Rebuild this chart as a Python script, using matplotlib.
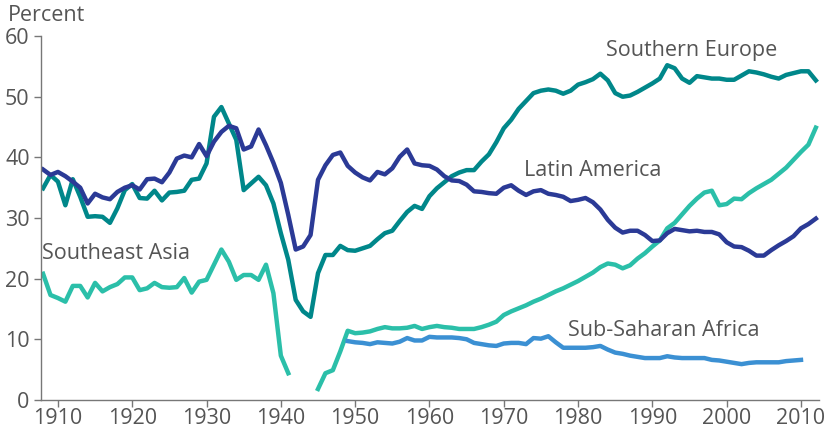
import numpy as np
import matplotlib.pyplot as plt

plt.rcParams['font.family'] = ['Open Sans', 'DejaVu Sans']

# Southern Europe, 1908-2012
years_se = list(range(1908, 2013))
southern_europe = [
    34.9, 37.1, 36.0, 32.1, 36.4, 33.5, 30.2, 30.3, 30.2, 29.2,   # 1908-1917
    31.6, 34.6, 35.6, 33.3, 33.2, 34.5, 32.9, 34.2, 34.3, 34.5,   # 1918-1927
    36.3, 36.5, 39.0, 46.7, 48.3, 45.6, 42.9, 34.6, 35.7, 36.8,   # 1928-1937
    35.4, 32.4, 27.5, 23.1, 16.5, 14.6, 13.7, 20.9, 23.9, 23.9,   # 1938-1947
    25.4, 24.7, 24.6, 25.0, 25.4, 26.5, 27.5, 27.9, 29.5, 31.0,   # 1948-1957
    32.0, 31.5, 33.6, 34.9, 35.9, 36.9, 37.5, 37.9, 37.9, 39.3,   # 1958-1967
    40.5, 42.5, 44.8, 46.2, 48.0, 49.3, 50.6, 51.0, 51.2, 51.0,   # 1968-1977
    50.5, 51.0, 52.0, 52.4, 52.9, 53.8, 52.7, 50.6, 50.0, 50.2,   # 1978-1987
    50.8, 51.5, 52.2, 53.0, 55.2, 54.7, 53.0, 52.3, 53.4, 53.2,   # 1988-1997
    53.0, 53.0, 52.8, 52.8, 53.5, 54.2, 54.0, 53.7, 53.3, 53.0,   # 1998-2007
    53.6, 53.9, 54.2, 54.2, 52.7,                                 # 2008-2012
]

# Latin America, 1908-2012
years_la = list(range(1908, 2013))
latin_america = [
    38.0, 37.1, 37.6, 36.9, 36.0, 35.0, 32.4, 34.0, 33.4, 33.1,   # 1908-1917
    34.3, 35.0, 35.4, 34.7, 36.4, 36.5, 35.9, 37.5, 39.8, 40.3,   # 1918-1927
    40.0, 42.2, 40.2, 42.6, 44.2, 45.2, 44.8, 41.3, 41.8, 44.6,   # 1928-1937
    42.0, 39.1, 35.8, 30.5, 24.8, 25.3, 27.2, 36.3, 38.7, 40.4,   # 1938-1947
    40.8, 38.6, 37.5, 36.7, 36.2, 37.6, 37.2, 38.2, 40.1, 41.3,   # 1948-1957
    39.0, 38.7, 38.6, 38.0, 36.9, 36.2, 36.1, 35.5, 34.4, 34.3,   # 1958-1967
    34.1, 34.0, 35.0, 35.4, 34.5, 33.8, 34.4, 34.6, 34.0, 33.8,   # 1968-1977
    33.5, 32.8, 33.0, 33.3, 32.6, 31.4, 29.7, 28.4, 27.6, 27.9,   # 1978-1987
    27.9, 27.2, 26.2, 26.3, 27.5, 28.2, 28.0, 27.8, 27.9, 27.7,   # 1988-1997
    27.7, 27.3, 26.0, 25.3, 25.2, 24.6, 23.8, 23.8, 24.7, 25.5,   # 1998-2007
    26.2, 27.0, 28.3, 29.0, 29.9,                                 # 2008-2012
]

# Southeast Asia, 1908-2012 (no data 1942-1944)
years_sea = list(range(1908, 2013))
southeast_asia = [
    20.8, 17.3, 16.8, 16.2, 18.8, 18.8, 16.9, 19.3, 17.9, 18.6,   # 1908-1917
    19.1, 20.2, 20.2, 18.1, 18.4, 19.3, 18.6, 18.5, 18.6, 20.1,   # 1918-1927
    17.7, 19.5, 19.8, 22.3, 24.8, 22.8, 19.8, 20.6, 20.6, 19.8,   # 1928-1937
    22.3, 17.6, 7.3, 4.4, None, None, None, 1.8, 4.4, 4.9,        # 1938-1947
    8.0, 11.4, 11.0, 11.1, 11.3, 11.7, 12.0, 11.8, 11.8, 11.9,    # 1948-1957
    12.2, 11.7, 12.0, 12.2, 12.0, 11.9, 11.7, 11.7, 11.7, 12.0,   # 1958-1967
    12.4, 12.9, 14.0, 14.6, 15.1, 15.6, 16.2, 16.7, 17.3, 17.9,   # 1968-1977
    18.4, 19.0, 19.6, 20.3, 21.0, 21.9, 22.5, 22.3, 21.7, 22.2,   # 1978-1987
    23.3, 24.2, 25.3, 26.3, 28.3, 29.2, 30.6, 32.0, 33.2, 34.2,   # 1988-1997
    34.5, 32.1, 32.3, 33.2, 33.1, 34.1, 34.9, 35.6, 36.3, 37.3,   # 1998-2007
    38.3, 39.6, 40.9, 42.1, 44.9,                                 # 2008-2012
]

# Sub-Saharan Africa, 1949-2010
years_ssa = list(range(1949, 2011))
sub_saharan_africa = [
    9.7, 9.5, 9.4, 9.2, 9.5, 9.4, 9.3, 9.6, 10.2, 9.8,            # 1949-1958
    9.8, 10.4, 10.3, 10.3, 10.3, 10.2, 10.0, 9.4, 9.2, 9.0,       # 1959-1968
    8.9, 9.3, 9.4, 9.4, 9.2, 10.2, 10.1, 10.5, 9.5, 8.6,          # 1969-1978
    8.6, 8.6, 8.6, 8.7, 8.9, 8.3, 7.8, 7.6, 7.3, 7.1,             # 1979-1988
    6.9, 6.9, 6.9, 7.2, 7.0, 6.9, 6.9, 6.9, 6.9, 6.6,             # 1989-1998
    6.5, 6.3, 6.1, 5.9, 6.1, 6.2, 6.2, 6.2, 6.2, 6.4,             # 1999-2008
    6.5, 6.6,                                                     # 2009-2010
]

x_ticks = [1910, 1920, 1930, 1940, 1950, 1960, 1970, 1980, 1990, 2000, 2010]
y_ticks = [0, 10, 20, 30, 40, 50, 60]

text_color = '#555555'
axis_color = '#777777'
fs = 15.5

fig = plt.figure(figsize=(8.25, 4.3), dpi=100)
ax = fig.add_axes([0.0495, 0.07, 0.943, 0.846])

def as_array(vals):
    return np.array([np.nan if v is None else v for v in vals], dtype=float)

ax.plot(years_sea, as_array(southeast_asia), color='#2bbfa9', lw=3.2)
ax.plot(years_ssa, sub_saharan_africa, color='#3b90d3', lw=3.2)
ax.plot(years_se, southern_europe, color='#00878a', lw=3.2)
ax.plot(years_la, latin_america, color='#2b3a96', lw=3.2)

ax.set_xlim(1907.7, 2012.4)
ax.set_ylim(0, 60)
ax.set_xticks(x_ticks)
ax.set_yticks(y_ticks)

for s in ['top', 'right']:
    ax.spines[s].set_visible(False)
for s in ['left', 'bottom']:
    ax.spines[s].set_color(axis_color)
    ax.spines[s].set_linewidth(1.0)

ax.tick_params(axis='both', colors=axis_color, labelcolor=text_color,
               labelsize=fs, length=5, width=1.0)
ax.tick_params(axis='y', pad=3)
ax.tick_params(axis='x', pad=1)

fig.text(0.01, 0.963, 'Percent', color=text_color, fontsize=fs,
         ha='left', va='center')

label_kw = dict(color=text_color, fontsize=fs, va='center', ha='left')
ax.text(1983.8, 57.7, 'Southern Europe', **label_kw)
ax.text(1972.7, 37.8, 'Latin America', **label_kw)
ax.text(1907.8, 24.1, 'Southeast Asia', **label_kw)
ax.text(1978.7, 11.5, 'Sub-Saharan Africa', **label_kw)

fig.savefig('out.png', dpi=100)
